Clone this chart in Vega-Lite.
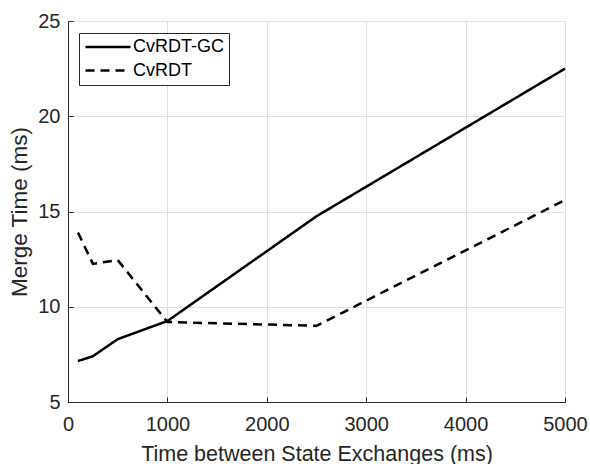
{
  "$schema": "https://vega.github.io/schema/vega-lite/v6.json",
  "width": 497,
  "height": 381,
  "autosize": {"type": "none"},
  "padding": {"left": 68, "top": 21, "right": 25, "bottom": 62},
  "background": "white",
  "config": {
    "view": {"stroke": null},
    "font": "Liberation Sans",
    "axis": {
      "domainColor": "#262626",
      "domainWidth": 1,
      "tickColor": "#262626",
      "tickSize": -5,
      "tickWidth": 1,
      "labelFontSize": 20,
      "labelColor": "#262626",
      "labelFlush": false,
      "titleColor": "#262626",
      "titleFontWeight": "normal",
      "gridColor": "#e0e0e0",
      "gridWidth": 1
    }
  },
  "data": {
    "values": [
      {"t": 100, "m": 7.15, "series": "CvRDT-GC"},
      {"t": 250, "m": 7.4, "series": "CvRDT-GC"},
      {"t": 500, "m": 8.3, "series": "CvRDT-GC"},
      {"t": 1000, "m": 9.25, "series": "CvRDT-GC"},
      {"t": 2500, "m": 14.75, "series": "CvRDT-GC"},
      {"t": 5000, "m": 22.5, "series": "CvRDT-GC"},
      {"t": 100, "m": 13.9, "series": "CvRDT"},
      {"t": 250, "m": 12.25, "series": "CvRDT"},
      {"t": 500, "m": 12.45, "series": "CvRDT"},
      {"t": 1000, "m": 9.2, "series": "CvRDT"},
      {"t": 2500, "m": 9.0, "series": "CvRDT"},
      {"t": 5000, "m": 15.6, "series": "CvRDT"}
    ]
  },
  "mark": {"type": "line", "color": "black", "strokeWidth": 2.5, "strokeCap": "butt", "strokeJoin": "miter"},
  "encoding": {
    "x": {
      "field": "t",
      "type": "quantitative",
      "scale": {"domain": [0, 5000], "nice": false},
      "axis": {
        "title": "Time between State Exchanges (ms)",
        "values": [0, 1000, 2000, 3000, 4000, 5000],
        "format": "d",
        "labelPadding": 17,
        "titleFontSize": 21.5,
        "titlePadding": 9
      }
    },
    "y": {
      "field": "m",
      "type": "quantitative",
      "scale": {"domain": [5, 25], "zero": false, "nice": false},
      "axis": {
        "title": "Merge Time (ms)",
        "values": [5, 10, 15, 20, 25],
        "format": "d",
        "labelPadding": 13,
        "titleFontSize": 22.5,
        "titlePadding": 6
      }
    },
    "strokeDash": {
      "field": "series",
      "type": "nominal",
      "scale": {"domain": ["CvRDT-GC", "CvRDT"], "range": [[1, 0], [9, 6]]},
      "legend": {
        "title": null,
        "orient": "none",
        "legendX": 11,
        "legendY": 12,
        "strokeColor": "#262626",
        "fillColor": "white",
        "padding": 5,
        "rowPadding": 5.5,
        "symbolType": "M-1,0H5",
        "symbolSize": 225,
        "symbolStrokeWidth": 2.5,
        "symbolStrokeColor": "black",
        "labelOffset": 31,
        "labelFontSize": 18,
        "labelColor": "#000000"
      }
    }
  }
}
